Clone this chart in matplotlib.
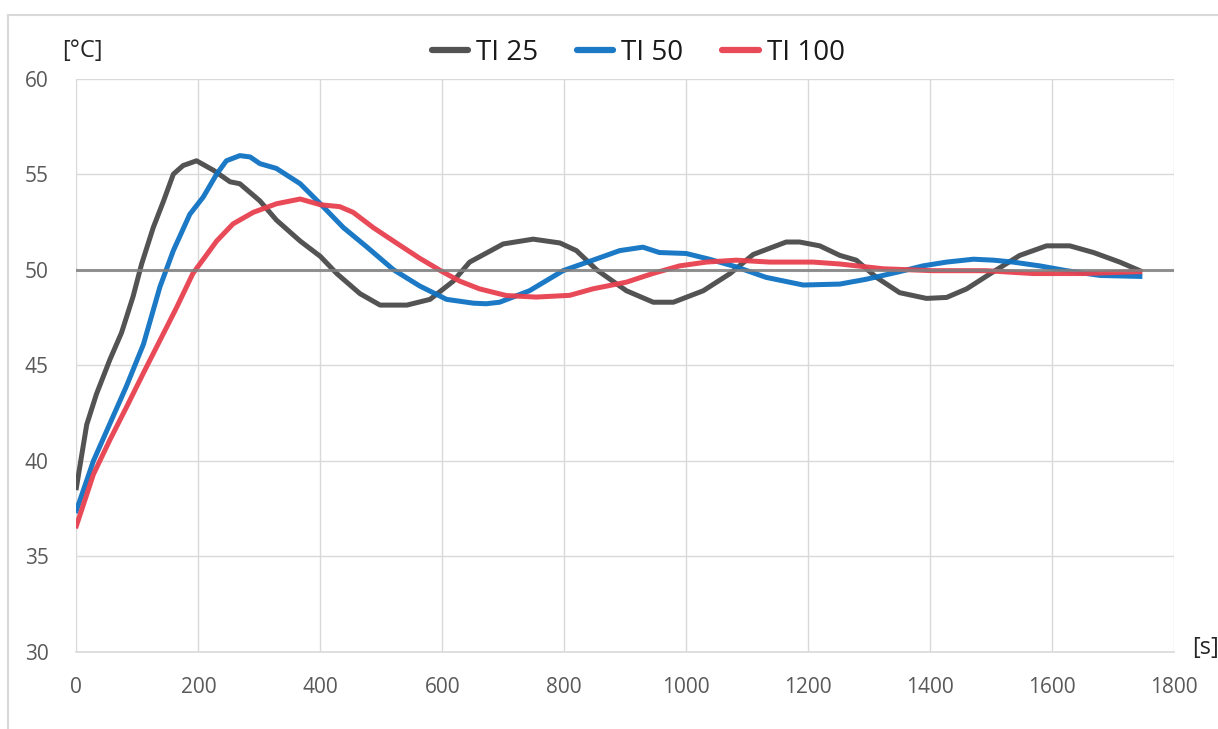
import matplotlib
matplotlib.use("Agg")
import matplotlib.pyplot as plt
from matplotlib.lines import Line2D

plt.rcParams['font.family'] = ['Open Sans', 'DejaVu Sans']

# ---- data ----
t_ti25 = [0, 17, 33, 55, 74, 93, 107, 126, 143, 159, 175, 197, 225, 252, 268, 301, 328, 367,
          400, 427, 465, 498, 542, 580, 618, 645, 700, 749, 793, 820, 853, 902, 946, 979,
          1028, 1072, 1110, 1164, 1186, 1219, 1252, 1279, 1312, 1350, 1394, 1427, 1460,
          1504, 1547, 1591, 1629, 1668, 1711, 1744]
v_ti25 = [38.6, 41.9, 43.5, 45.3, 46.7, 48.6, 50.3, 52.2, 53.6, 55.0, 55.45, 55.7, 55.2, 54.6,
          54.5, 53.6, 52.6, 51.5, 50.7, 49.8, 48.75, 48.15, 48.15, 48.45, 49.4, 50.4, 51.35,
          51.6, 51.4, 51.0, 50.0, 48.9, 48.3, 48.3, 48.9, 49.8, 50.8, 51.45, 51.45, 51.25,
          50.75, 50.5, 49.6, 48.8, 48.5, 48.55, 49.0, 49.9, 50.75, 51.25, 51.25, 50.9, 50.4,
          49.95]

t_ti50 = [0, 28, 55, 82, 110, 137, 159, 186, 208, 230, 246, 268, 285, 301, 328, 367, 400, 438,
          476, 520, 563, 607, 651, 672, 694, 743, 798, 847, 891, 929, 956, 1000, 1038, 1082,
          1131, 1192, 1252, 1295, 1350, 1388, 1427, 1471, 1504, 1536, 1580, 1624, 1679, 1744]
v_ti50 = [37.4, 40.0, 41.95, 43.9, 46.1, 49.1, 51.0, 52.9, 53.8, 55.0, 55.7, 55.97, 55.9,
          55.55, 55.3, 54.5, 53.45, 52.2, 51.2, 50.0, 49.15, 48.45, 48.25, 48.22, 48.3, 48.9,
          49.95, 50.5, 51.0, 51.18, 50.9, 50.85, 50.55, 50.15, 49.6, 49.2, 49.25, 49.5, 49.9,
          50.2, 50.4, 50.55, 50.5, 50.4, 50.2, 49.95, 49.7, 49.65]

t_ti100 = [0, 28, 55, 82, 110, 137, 164, 191, 214, 230, 257, 290, 328, 367, 400, 432, 454, 487,
           520, 563, 600, 629, 661, 705, 754, 809, 847, 902, 945, 989, 1033, 1082, 1137, 1208,
           1252, 1323, 1405, 1492, 1569, 1651, 1744]
v_ti100 = [36.6, 39.3, 41.1, 42.8, 44.6, 46.3, 48.0, 49.8, 50.8, 51.5, 52.4, 53.0, 53.45, 53.7,
           53.4, 53.3, 53.0, 52.2, 51.5, 50.6, 49.9, 49.4, 49.0, 48.65, 48.57, 48.66, 49.0,
           49.35, 49.8, 50.2, 50.4, 50.5, 50.4, 50.4, 50.3, 50.05, 49.95, 49.95, 49.8, 49.8,
           49.9]

setpoint = 50
series_labels = ['TI 25', 'TI 50', 'TI 100']
x_ticks = [0, 200, 400, 600, 800, 1000, 1200, 1400, 1600, 1800]
y_ticks = [30, 35, 40, 45, 50, 55, 60]

colors = ['#4a4a4a', '#0f72c2', '#e8404f']

fig = plt.figure(figsize=(12.18, 7.29), dpi=100)
ax = fig.add_axes([0.0627, 0.1056, 0.9012, 0.7866])

grid_c = '#d9d9d9'
ax.set_xlim(0, 1800)
ax.set_ylim(30, 60)
ax.set_xticks(x_ticks)
ax.set_yticks(y_ticks)
ax.grid(True, color=grid_c, linewidth=1.0)
ax.set_axisbelow(True)
for s in ['top', 'right', 'left']:
    ax.spines[s].set_visible(False)
ax.spines['bottom'].set_color(grid_c)
ax.spines['bottom'].set_linewidth(1.2)
ax.tick_params(length=0, labelsize=15, labelcolor='#595959')
ax.tick_params(axis='x', pad=18)
ax.tick_params(axis='y', pad=20)

for t, v, lab, c in zip([t_ti25, t_ti50, t_ti100], [v_ti25, v_ti50, v_ti100],
                        series_labels, colors):
    ax.plot(t, v, color=c, linewidth=3.6, label=lab, alpha=0.95, solid_joinstyle='round')

ax.axhline(setpoint, color='#808080', linewidth=2.2, alpha=0.85, zorder=5)

leg = fig.legend(loc='center', bbox_to_anchor=(0.524, 0.927), ncol=3, frameon=False,
                 fontsize=20, handlelength=1.3, handletextpad=0.3, columnspacing=1.4)
for h in leg.legend_handles:
    h.set_linewidth(4.5)
    h.set_solid_capstyle('round')
for txt in leg.get_texts():
    txt.set_color('#1a1a1a')

fig.text(82 / 1218, 1 - 51 / 729, '[°C]', fontsize=17, color='#262626',
         ha='center', va='center')
fig.text(1206 / 1218, 1 - 648 / 729, '[s]', fontsize=17, color='#262626',
         ha='center', va='center')

# outer chart frame (partially visible)
fig.add_artist(Line2D([8 / 1218, 8 / 1218], [0, 1 - 15 / 729], color=grid_c,
                      linewidth=1.5, transform=fig.transFigure))
fig.add_artist(Line2D([8 / 1218, 1], [1 - 15 / 729, 1 - 15 / 729], color=grid_c,
                      linewidth=1.5, transform=fig.transFigure))

fig.savefig('out.png', dpi=100)
